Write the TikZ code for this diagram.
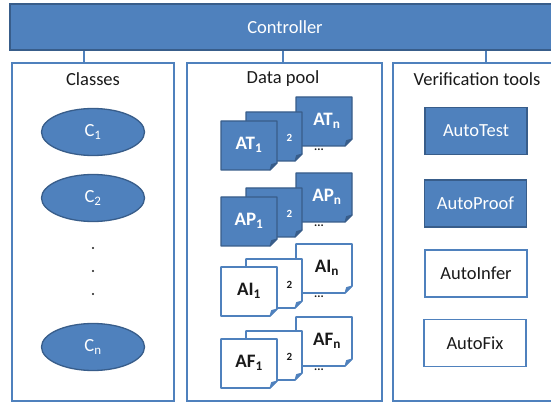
\documentclass[tikz,border=0pt]{standalone}
\usepackage{fontspec}
\setmainfont{Carlito}
\usepackage{tikz}
\usetikzlibrary{shapes.geometric, positioning, calc}
\definecolor{officeblue}{HTML}{4F81BD}
\definecolor{darkblue}{HTML}{385D8A}
\definecolor{textgray}{HTML}{1A1A1A}

% one sheet with a folded corner, #1 style, (#2,#3) top left corner
\newcommand{\docpage}[3]{%
  \begin{scope}[shift={(#2,#3)}]
    \draw[#1] (0,0) -- (56,0) -- (56,42) -- (49,49) -- (0,49) -- cycle;
    \filldraw[#1fold] (49,49) -- (56,42) -- (50.5,43.5) -- cycle;
  \end{scope}}

\tikzset{
  panel/.style={draw=officeblue, line width=1.6pt, minimum height=338pt, inner sep=0pt},
  title/.style={font=\fontsize{18.5}{22}\selectfont, text=textgray},
  link/.style={draw=officeblue, line width=1.6pt},
  classnode/.style={ellipse, draw=darkblue, fill=officeblue, line width=1.3pt, text=white,
    minimum width=103pt, minimum height=47pt, inner sep=0pt, font=\fontsize{18.5}{22}\selectfont},
  bluebox/.style={draw=darkblue, fill=officeblue, line width=1.3pt, text=white,
    minimum width=102pt, minimum height=47pt, font=\fontsize{18.5}{22}\selectfont},
  whitebox/.style={draw=officeblue, fill=white, line width=1.6pt, text=textgray,
    minimum width=102pt, minimum height=47pt, font=\fontsize{18.5}{22}\selectfont},
  bluepage/.style={draw=darkblue, fill=officeblue, line width=1.3pt, line join=round},
  bluepagefold/.style={draw=darkblue, fill=darkblue, line width=0.8pt, line join=round},
  whitepage/.style={draw=officeblue, fill=white, line width=1.6pt, line join=round},
  whitepagefold/.style={draw=officeblue, fill=officeblue, line width=0.8pt, line join=round},
  pagelabel/.style={font=\bfseries\fontsize{19}{22}\selectfont, inner sep=0pt},
  pagenum/.style={font=\bfseries\fontsize{11}{13}\selectfont, inner sep=0pt},
  pagedots/.style={font=\bfseries\fontsize{12}{14}\selectfont, inner sep=0pt}
}

\begin{document}
\begin{tikzpicture}[x=1pt, y=-1pt]
  \clip (0,0) rectangle (551,403);
  \fill[white] (0,0) rectangle (551,403);

  % Controller bar across the top
  \node[bluebox, minimum width=550pt, minimum height=46pt] (ctrl) at (285,27) {Controller};

  % The three panels
  \node[panel, minimum width=162pt] (classes) at (93,232) {};
  \node[panel, minimum width=195pt] (pool) at (284.5,232) {};
  \node[panel, minimum width=168pt] (tools) at (477,232) {};

  % Links from the controller down to the panels
  \draw[link] ([xshift=-9pt]classes.north) -- ([xshift=-9pt]classes.north |- ctrl.south);
  \draw[link] ([xshift=-1.5pt]pool.north) -- ([xshift=-1.5pt]pool.north |- ctrl.south);
  \draw[link] ([xshift=9pt]tools.north) -- ([xshift=9pt]tools.north |- ctrl.south);

  % Panel titles
  \node[title] (classestitle) at (93,79) {Classes};
  \node[title] (pooltitle) at (283,79) {Data pool};
  \node[title] (toolstitle) at (477,79) {Verification tools};

  % Classes
  \node[classnode] (c1) at (93,132) {C\textsubscript{1}};
  \node[classnode] (c2) at (93,198) {C\textsubscript{2}};
  \fill[textgray] (93,248) circle (1.1pt);
  \fill[textgray] (93,271) circle (1.1pt);
  \fill[textgray] (93,294) circle (1.1pt);
  \node[classnode] (cn) at (93,347) {C\textsubscript{n}};

  % Data pool: AutoTest results
  \docpage{bluepage}{296}{97}
  \docpage{bluepage}{246}{112}
  \docpage{bluepage}{221}{121}
  \node[pagelabel, text=white] (atn) at (327,121) {AT\textsubscript{n}};
  \node[pagenum, text=white] (at2) at (289.5,138) {2};
  \node[pagelabel, text=white] (at1) at (249,145) {AT\textsubscript{1}};
  \node[pagedots, text=textgray] (atdots) at (319,150) {...};

  % Data pool: AutoProof results
  \docpage{bluepage}{296}{173}
  \docpage{bluepage}{246}{188}
  \docpage{bluepage}{221}{197}
  \node[pagelabel, text=white] (apn) at (327,197) {AP\textsubscript{n}};
  \node[pagenum, text=white] (ap2) at (289.5,214) {2};
  \node[pagelabel, text=white] (ap1) at (249,221) {AP\textsubscript{1}};
  \node[pagedots, text=textgray] (apdots) at (319,226) {...};

  % Data pool: AutoInfer results
  \docpage{whitepage}{296}{244}
  \docpage{whitepage}{246}{259}
  \docpage{whitepage}{221}{267}
  \node[pagelabel, text=textgray] (ain) at (327,268) {AI\textsubscript{n}};
  \node[pagenum, text=textgray] (ai2) at (289.5,285) {2};
  \node[pagelabel, text=textgray] (ai1) at (249,291) {AI\textsubscript{1}};
  \node[pagedots, text=textgray] (aidots) at (319,297) {...};

  % Data pool: AutoFix results
  \docpage{whitepage}{296}{317}
  \docpage{whitepage}{246}{331}
  \docpage{whitepage}{221}{339}
  \node[pagelabel, text=textgray] (afn) at (327,341) {AF\textsubscript{n}};
  \node[pagenum, text=textgray] (af2) at (289.5,357) {2};
  \node[pagelabel, text=textgray] (af1) at (249,363) {AF\textsubscript{1}};
  \node[pagedots, text=textgray] (afdots) at (319,370) {...};

  % Verification tools
  \node[bluebox] (autotest) at (476,131) {AutoTest};
  \node[bluebox] (autoproof) at (475.5,203.5) {AutoProof};
  \node[whitebox] (autoinfer) at (476,273.5) {AutoInfer};
  \node[whitebox] (autofix) at (475,343) {AutoFix};
\end{tikzpicture}
\end{document}
